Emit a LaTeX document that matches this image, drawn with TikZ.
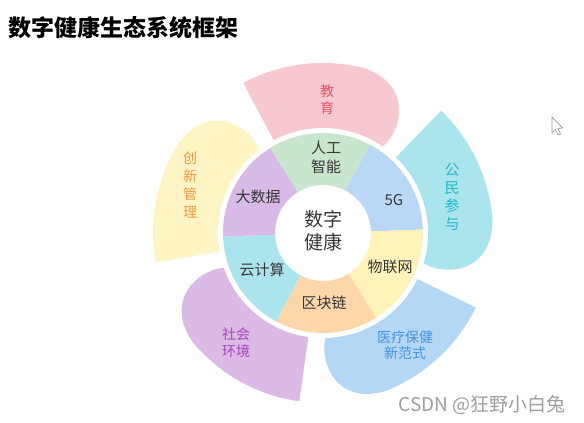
\documentclass[tikz,border=0pt]{standalone}
\usepackage{fontspec}
\setmainfont{Noto Sans CJK SC}
\usepackage{tikz}
\usepackage{xcolor}

\definecolor{eduFill}{RGB}{248,200,208}
\definecolor{eduText}{RGB}{232,82,100}
\definecolor{publicFill}{RGB}{170,228,236}
\definecolor{publicText}{RGB}{38,182,204}
\definecolor{medFill}{RGB}{180,215,245}
\definecolor{medText}{RGB}{66,148,226}
\definecolor{socFill}{RGB}{220,186,230}
\definecolor{socText}{RGB}{168,68,188}
\definecolor{innoFill}{RGB}{255,245,196}
\definecolor{innoText}{RGB}{240,152,66}
\definecolor{aiFill}{RGB}{200,230,205}
\definecolor{fivegFill}{RGB}{186,215,245}
\definecolor{iotFill}{RGB}{255,243,186}
\definecolor{chainFill}{RGB}{253,215,170}
\definecolor{cloudFill}{RGB}{172,228,238}
\definecolor{dataFill}{RGB}{215,186,230}
\definecolor{ringText}{RGB}{55,55,55}

\begin{document}
\begin{tikzpicture}[x=1pt, y=1pt]
\tikzset{
    petal/.style={fill=#1},
    ringpart/.style={fill=#1},
    ringlabel/.style={text=ringText, font=\fontsize{15}{19}\selectfont, align=center},
    petallabel/.style={text=#1, font=\fontsize{14}{17}\selectfont, align=center},
    hublabel/.style={text=ringText, font=\fontsize{19}{23}\selectfont, align=center}
}
\useasboundingbox[fill=white] (0,0) rectangle (584,423);

\node[anchor=west, font=\fontsize{23}{26}\selectfont\bfseries] (title) at (5,395) {数字健康生态系统框架};

\begin{scope}[shift={(323,190)}]
% outer petals, sharp edge first, round end last
\fill[petal=eduFill] (118:96) -- (118:170) arc[start angle=118, end angle=76, radius=170]
    .. controls (56:175) and (50:115) .. (58:96) arc[start angle=58, end angle=118, radius=96] -- cycle;
\fill[petal=publicFill] (46:96) -- (46:170) arc[start angle=46, end angle=4, radius=170]
    .. controls (-16:175) and (-22:115) .. (-14:96) arc[start angle=-14, end angle=46, radius=96] -- cycle;
\fill[petal=medFill] (-26:96) -- (-26:170) arc[start angle=-26, end angle=-68, radius=170]
    .. controls (-88:176) and (-94:115) .. (-86:96) arc[start angle=-86, end angle=-26, radius=96] -- cycle;
\fill[petal=socFill] (-98:96) -- (-98:170) arc[start angle=-98, end angle=-140, radius=170]
    .. controls (-160:175) and (-166:115) .. (-158:96) arc[start angle=-158, end angle=-98, radius=96] -- cycle;
\fill[petal=innoFill] (-170:96) -- (-170:170) arc[start angle=-170, end angle=-212, radius=170]
    .. controls (-232:175) and (-238:115) .. (-230:96) arc[start angle=-230, end angle=-170, radius=96] -- cycle;

% white gap round the ring
\fill[white] (0,0) circle[radius=105];

% inner ring
\fill[ringpart=aiFill] (62:48) -- (62:100) arc[start angle=62, end angle=122, radius=100] -- (122:48) arc[start angle=122, end angle=62, radius=48] -- cycle;
\fill[ringpart=fivegFill] (2:48) -- (2:100) arc[start angle=2, end angle=62, radius=100] -- (62:48) arc[start angle=62, end angle=2, radius=48] -- cycle;
\fill[ringpart=iotFill] (-58:48) -- (-58:100) arc[start angle=-58, end angle=2, radius=100] -- (2:48) arc[start angle=2, end angle=-58, radius=48] -- cycle;
\fill[ringpart=chainFill] (-118:48) -- (-118:100) arc[start angle=-118, end angle=-58, radius=100] -- (-58:48) arc[start angle=-58, end angle=-118, radius=48] -- cycle;
\fill[ringpart=cloudFill] (182:48) -- (182:100) arc[start angle=182, end angle=242, radius=100] -- (242:48) arc[start angle=242, end angle=182, radius=48] -- cycle;
\fill[ringpart=dataFill] (122:48) -- (122:100) arc[start angle=122, end angle=182, radius=100] -- (182:48) arc[start angle=182, end angle=122, radius=48] -- cycle;

\node[hublabel] (hub) at (0,2) {数字\\健康};
\node[ringlabel] (ai) at (3,76) {人工\\智能};
\node[ringlabel] (fiveg) at (71,33) {5G};
\node[ringlabel] (iot) at (67,-34) {物联网};
\node[ringlabel] (chain) at (1,-70) {区块链};
\node[ringlabel] (cloud) at (-61,-37) {云计算};
\node[ringlabel] (bigdata) at (-65,36) {大数据};

\node[petallabel=eduText] (edu) at (4,133) {教\\育};
\node[petallabel=publicText, font=\fontsize{15}{18}\selectfont] (public) at (129,36) {公\\民\\参\\与};
\node[petallabel=innoText, font=\fontsize{14}{18}\selectfont] (innovate) at (-133,48) {创\\新\\管\\理};
\node[petallabel=socText] (society) at (-87,-110) {社会\\环境};
\node[petallabel=medText, font=\fontsize{14}{16}\selectfont] (medical) at (82,-112) {医疗保健\\新范式};
\end{scope}

% screen cursor and watermark
\draw[gray!80, line width=0.7pt, fill=white] (552,306) -- (552,290) -- (555.5,293.5) -- (558,288) -- (560.5,289) -- (558,294.5) -- (562.5,295) -- cycle;
\node[anchor=east, text=gray!75, font=\fontsize{19}{22}\selectfont] (mark) at (569,18) {CSDN @狂野小白兔};
\end{tikzpicture}
\end{document}
